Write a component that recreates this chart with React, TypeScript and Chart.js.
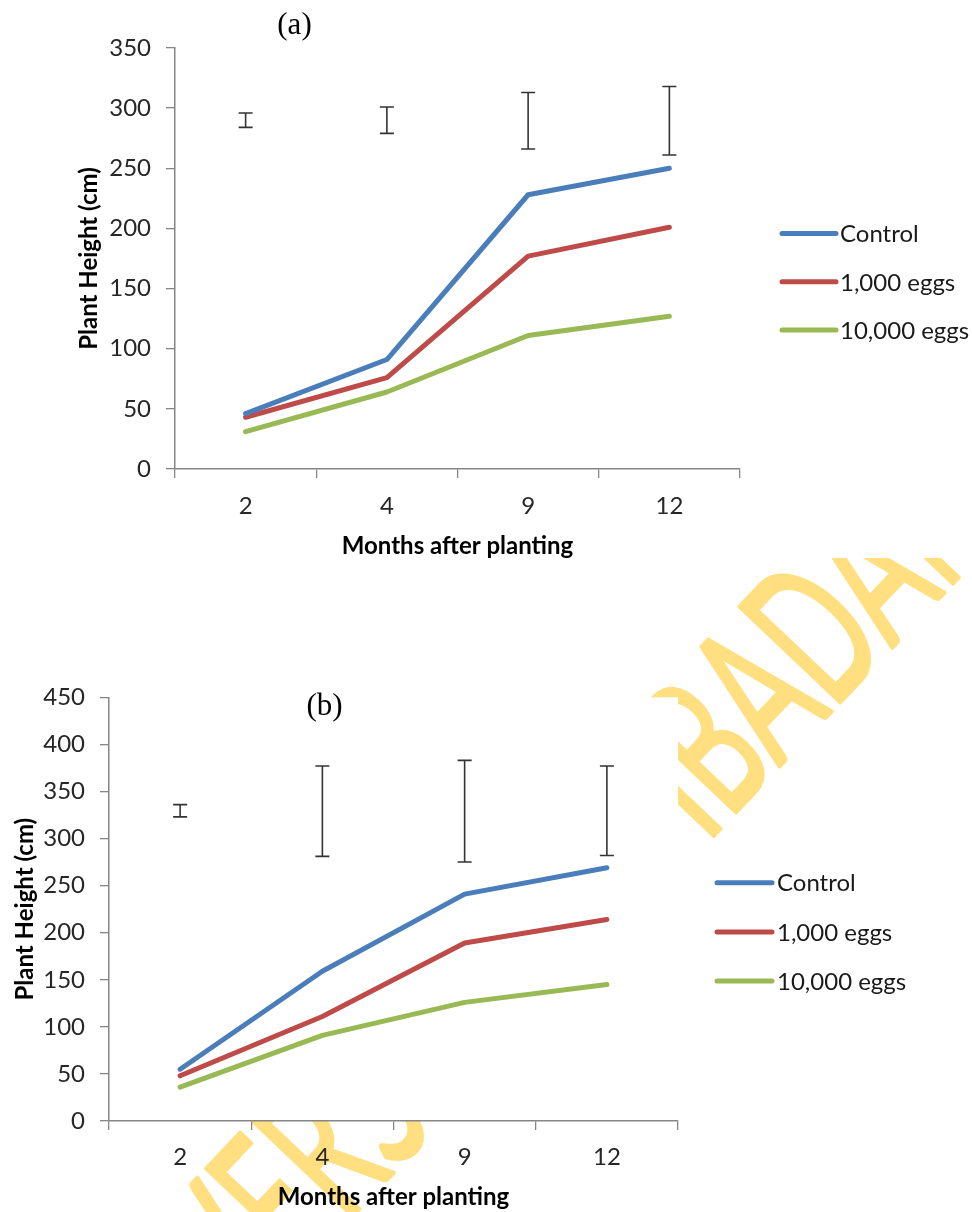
import { useEffect, useRef } from 'react';
import { Chart, registerables } from 'chart.js';

Chart.register(...registerables);

// Sampling times (months after planting)
const months = ['2', '4', '9', '12'];
const seriesNames = ['Control', '1,000 eggs', '10,000 eggs'];

// Panel (a): mean plant height (cm)
const controlA = [46, 91, 228, 250];
const eggs1000A = [43, 76, 177, 201];
const eggs10000A = [31, 64, 111, 127];
// Panel (a): LSD bars, lower and upper ends
const errLowA = [284, 279, 266, 261];
const errHighA = [296, 301, 313, 318];

// Panel (b): mean plant height (cm)
const controlB = [55, 159, 241, 269];
const eggs1000B = [48, 111, 189, 214];
const eggs10000B = [36, 91, 126, 145];
// Panel (b): LSD bars, lower and upper ends
const errLowB = [323, 281, 275, 282];
const errHighB = [336, 377, 383, 377];

const yMaxA = 350;
const yMaxB = 450;
const yStep = 50;

const FONT = "Lato, 'Open Sans', sans-serif";
const SERIF = "'Liberation Serif', 'Times New Roman', serif";
const LINE_COLORS = ['#4A7EBB', '#BE4B48', '#98B954'];
const AXIS_COLOR = '#868686';
const TICK_COLOR = '#262626';
const WATERMARK_COLOR = '#FFDF80';

type Panel = {
  key: string;
  tag: string;
  tagX: number;
  tagY: number;
  series: number[][];
  low: number[];
  high: number[];
  yMax: number;
  top: number;
  width: number;
  height: number;
  area: { left: number; right: number; top: number; bottom: number };
  legend: { x: number; y: number; gap: number; len: number; textX: number };
  yTitlePad: number;
  xTitlePad: number;
  tickPad: number;
  watermark: boolean;
};

const panels: Panel[] = [
  {
    key: 'a',
    tag: '(a)',
    tagX: 294.5,
    tagY: 26,
    series: [controlA, eggs1000A, eggs10000A],
    low: errLowA,
    high: errHighA,
    yMax: yMaxA,
    top: 0,
    width: 972,
    height: 558,
    area: { left: 175, right: 740, top: 48, bottom: 469 },
    legend: { x: 782, y: 233.5, gap: 48.3, len: 54, textX: 840 },
    yTitlePad: 77,
    xTitlePad: 0,
    tickPad: 14,
    watermark: false,
  },
  {
    key: 'b',
    tag: '(b)',
    tagX: 324.5,
    tagY: 148.5,
    series: [controlB, eggs1000B, eggs10000B],
    low: errLowB,
    high: errHighB,
    yMax: yMaxB,
    top: 558,
    width: 972,
    height: 654,
    area: { left: 109, right: 678, top: 139.3, bottom: 563 },
    legend: { x: 717, y: 324.7, gap: 49.2, len: 55, textX: 777 },
    yTitlePad: 13,
    xTitlePad: 2.7,
    tickPad: 13,
    watermark: true,
  },
];

// Diagonal repository watermark, drawn underneath the chart
function drawWatermark(ctx: CanvasRenderingContext2D) {
  ctx.save();
  ctx.font = `194px ${FONT}`;
  ctx.fillStyle = WATERMARK_COLOR;
  ctx.strokeStyle = WATERMARK_COLOR;
  ctx.lineWidth = 4;
  ctx.lineJoin = 'round';
  ctx.textBaseline = 'alphabetic';
  ctx.textAlign = 'left';
  const text = 'UNIVERSITY OF IBADAN';
  const prefix = ctx.measureText('UNIVERSITY OF IBA').width;
  ctx.translate(832.5, 152.5);
  ctx.rotate((-46.5 * Math.PI) / 180);
  ctx.scale(0.595, 1);
  ctx.fillText(text, -prefix, 0);
  ctx.strokeText(text, -prefix, 0);
  ctx.restore();
}

function makePlugins(p: Panel) {
  const background = {
    id: 'background',
    beforeDraw(chart: Chart) {
      const { ctx, chartArea } = chart;
      ctx.save();
      if (p.watermark) {
        drawWatermark(ctx);
        ctx.fillStyle = '#ffffff';
        ctx.fillRect(chartArea.left, chartArea.top, chartArea.right - chartArea.left, chartArea.bottom - chartArea.top);
      } else {
        ctx.fillStyle = '#ffffff';
        ctx.fillRect(0, 0, chart.width, chart.height);
      }
      ctx.restore();
    },
  };

  const errorBars = {
    id: 'errorBars',
    afterDatasetsDraw(chart: Chart) {
      const { ctx } = chart;
      const xs = chart.scales.x;
      const ys = chart.scales.y;
      ctx.save();
      ctx.strokeStyle = '#333333';
      ctx.lineWidth = 1.6;
      for (let i = 0; i < months.length; i++) {
        const x = xs.getPixelForValue(i);
        const y1 = ys.getPixelForValue(p.low[i]);
        const y2 = ys.getPixelForValue(p.high[i]);
        ctx.beginPath();
        ctx.moveTo(x, y1);
        ctx.lineTo(x, y2);
        ctx.moveTo(x - 7, y1);
        ctx.lineTo(x + 7, y1);
        ctx.moveTo(x - 7, y2);
        ctx.lineTo(x + 7, y2);
        ctx.stroke();
      }
      ctx.restore();
    },
  };

  const legendAndTag = {
    id: 'legendAndTag',
    afterDraw(chart: Chart) {
      const { ctx } = chart;
      const lg = p.legend;
      ctx.save();
      ctx.lineCap = 'round';
      ctx.lineWidth = 5;
      ctx.font = `24px ${FONT}`;
      ctx.textBaseline = 'middle';
      ctx.textAlign = 'left';
      seriesNames.forEach((name, i) => {
        const y = lg.y + i * lg.gap;
        ctx.strokeStyle = LINE_COLORS[i];
        ctx.beginPath();
        ctx.moveTo(lg.x, y);
        ctx.lineTo(lg.x + lg.len, y);
        ctx.stroke();
        ctx.fillStyle = '#1a1a1a';
        ctx.fillText(name, lg.textX, y + 1);
      });
      ctx.font = `31px ${SERIF}`;
      ctx.textAlign = 'center';
      ctx.fillStyle = '#000000';
      ctx.fillText(p.tag, p.tagX, p.tagY);
      ctx.restore();
    },
  };

  return [background, errorBars, legendAndTag];
}

function PanelChart({ p }: { p: Panel }) {
  const ref = useRef<HTMLCanvasElement>(null);

  useEffect(() => {
    if (!ref.current) return;
    const chart = new Chart(ref.current, {
      type: 'line',
      data: {
        labels: months,
        datasets: p.series.map((values, i) => ({
          label: seriesNames[i],
          data: values,
          borderColor: LINE_COLORS[i],
          backgroundColor: LINE_COLORS[i],
          borderWidth: 5,
          borderCapStyle: 'round',
          borderJoinStyle: 'round',
          pointRadius: 0,
          tension: 0,
          fill: false,
        })),
      },
      options: {
        responsive: false,
        maintainAspectRatio: false,
        animation: false,
        devicePixelRatio: 1,
        layout: {
          padding: { left: 0, top: p.area.top, right: p.width - p.area.right, bottom: 0 },
        },
        plugins: {
          legend: { display: false },
          tooltip: { enabled: false },
          title: { display: false },
        },
        scales: {
          x: {
            type: 'category',
            offset: true,
            grid: {
              offset: true,
              drawOnChartArea: false,
              drawTicks: true,
              tickLength: 9,
              color: AXIS_COLOR,
              lineWidth: 1.3,
            },
            border: { display: true, color: AXIS_COLOR, width: 1.5 },
            ticks: {
              font: { family: FONT, size: 24 },
              color: TICK_COLOR,
              padding: p.tickPad,
              maxRotation: 0,
              autoSkip: false,
            },
            title: {
              display: true,
              text: 'Months after planting',
              color: '#000000',
              font: { family: FONT, size: 24, weight: 'bold', lineHeight: 1 },
              padding: { top: 0, bottom: p.xTitlePad },
            },
            afterFit: (scale: any) => {
              scale.height = p.height - p.area.bottom;
            },
          },
          y: {
            min: 0,
            max: p.yMax,
            grid: {
              drawOnChartArea: false,
              drawTicks: true,
              tickLength: 9,
              color: AXIS_COLOR,
              lineWidth: 1.3,
            },
            border: { display: true, color: AXIS_COLOR, width: 1.5 },
            ticks: {
              stepSize: yStep,
              font: { family: FONT, size: 24 },
              color: TICK_COLOR,
              padding: 15,
            },
            title: {
              display: true,
              text: 'Plant Height (cm)',
              color: '#000000',
              font: { family: FONT, size: 24, weight: 'bold', lineHeight: 1 },
              padding: { top: p.yTitlePad, bottom: 0 },
            },
            afterFit: (scale: any) => {
              scale.width = p.area.left;
            },
          },
        },
      },
      plugins: makePlugins(p),
    } as any);
    return () => chart.destroy();
  }, [p]);

  return (
    <canvas
      ref={ref}
      width={p.width}
      height={p.height}
      style={{ position: 'absolute', left: 0, top: p.top, width: p.width, height: p.height, display: 'block' }}
    />
  );
}

export default function App() {
  return (
    <div style={{ position: 'absolute', left: 0, top: 0, width: 972, height: 1212, background: '#ffffff', overflow: 'hidden' }}>
      {panels.map((p) => (
        <PanelChart key={p.key} p={p} />
      ))}
    </div>
  );
}
